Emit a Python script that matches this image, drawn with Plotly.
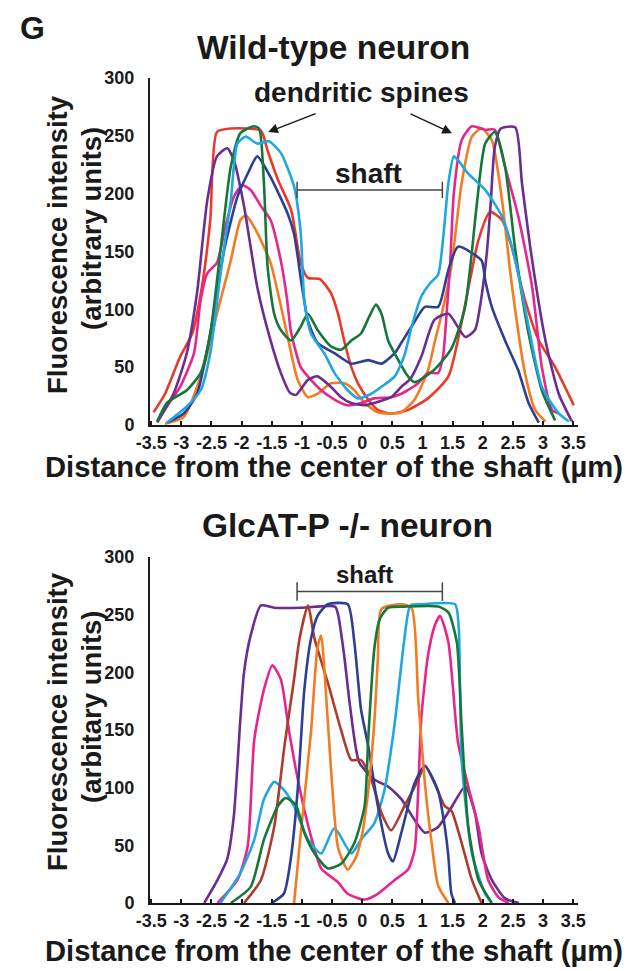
import plotly.graph_objects as go

# ---------------- data ----------------
X_TICKS = [-3.5, -3, -2.5, -2, -1.5, -1, -0.5, 0, 0.5, 1, 1.5, 2, 2.5, 3, 3.5]
X_TICK_TEXT = ["-3.5", "-3", "-2.5", "-2", "-1.5", "-1", "-0.5", "0", "0.5", "1", "1.5", "2", "2.5", "3", "3.5"]
Y_TICKS = [0, 50, 100, 150, 200, 250, 300]
Y_TICK_TEXT = ["0", "50", "100", "150", "200", "250", "300"]

SHAFT = [-1.08, 1.33]

# Wild-type neuron profiles
wt_red_x = [-3.46, -3.27, -3.02, -2.82, -2.66, -2.52, -2.41, -2.18, -1.68, -1.57, -1.4, -1.18, -1.02, -0.9, -0.7, -0.52, -0.4, -0.29, -0.18, -0.07, 0.1, 0.26, 0.48, 0.76, 1.09, 1.43, 1.7, 1.93, 2.12, 2.32, 2.48, 2.7, 2.93, 3.2, 3.51]
wt_red_y = [11, 27, 59, 79, 119, 177, 253, 256, 254, 237, 212, 186, 140, 127, 126, 114, 96, 71, 50, 36, 22, 13, 10, 13, 23, 42, 102, 160, 184, 177, 154, 108, 73, 50, 17]

wt_green_x = [-3.4, -3.24, -2.91, -2.68, -2.52, -2.35, -2.18, -2.02, -1.8, -1.71, -1.63, -1.57, -1.46, -1.35, -1.18, -1.02, -0.9, -0.74, -0.52, -0.35, -0.18, -0.02, 0.12, 0.23, 0.32, 0.43, 0.6, 0.76, 0.87, 1.2, 1.48, 1.7, 1.8, 1.9, 2.04, 2.2, 2.37, 2.54, 2.76, 2.98, 3.2]
wt_green_y = [3, 19, 30, 45, 79, 151, 223, 252, 258, 256, 209, 137, 96, 82, 73, 85, 96, 82, 68, 65, 73, 79, 94, 104, 96, 73, 56, 42, 37, 48, 66, 100, 140, 190, 243, 253, 223, 151, 79, 30, 4]

wt_cyan_x = [-3.24, -2.91, -2.68, -2.52, -2.35, -2.18, -2.07, -1.93, -1.74, -1.55, -1.35, -1.13, -1.02, -0.96, -0.85, -0.63, -0.46, -0.24, -0.07, 0.15, 0.32, 0.54, 0.7, 0.82, 0.98, 1.12, 1.26, 1.35, 1.43, 1.52, 1.6, 1.76, 2.04, 2.32, 2.54, 2.76, 2.98, 3.26, 3.43]
wt_cyan_y = [2, 16, 30, 62, 131, 194, 243, 249, 243, 245, 235, 206, 166, 108, 79, 62, 45, 30, 23, 27, 33, 42, 60, 85, 111, 122, 130, 165, 209, 232, 228, 217, 203, 180, 142, 85, 33, 10, 3]

wt_purple_x = [-3.4, -3.13, -2.91, -2.74, -2.57, -2.41, -2.24, -2.13, -1.96, -1.74, -1.52, -1.35, -1.2, -1.1, -0.9, -0.74, -0.52, -0.35, -0.18, 0.04, 0.26, 0.48, 0.65, 0.8, 0.98, 1.2, 1.43, 1.71, 1.87, 1.98, 2.07, 2.13, 2.2, 2.3, 2.54, 2.65, 2.82, 3.04, 3.26, 3.48]
wt_purple_y = [3, 27, 62, 114, 194, 232, 239, 229, 189, 119, 73, 45, 28, 26, 39, 42, 33, 24, 19, 17, 20, 24, 33, 40, 59, 91, 96, 76, 82, 111, 150, 190, 240, 256, 257, 209, 142, 73, 27, 3]

wt_navy_x = [-3.24, -2.96, -2.74, -2.52, -2.29, -2.07, -1.9, -1.74, -1.52, -1.24, -1.13, -1.0, -0.9, -0.74, -0.46, -0.18, 0.1, 0.32, 0.54, 0.65, 0.82, 1.04, 1.26, 1.43, 1.59, 1.98, 2.04, 2.15, 2.37, 2.59, 2.76, 2.93]
wt_navy_y = [2, 10, 27, 79, 151, 197, 217, 232, 214, 183, 165, 120, 90, 71, 62, 53, 56, 53, 62, 71, 85, 102, 102, 134, 154, 142, 125, 102, 73, 47, 19, 2]

wt_magenta_x = [-3.4, -3.24, -3.02, -2.79, -2.68, -2.57, -2.41, -2.27, -2.13, -1.99, -1.85, -1.68, -1.52, -1.35, -1.25, -1.18, -1.02, -0.85, -0.68, -0.46, -0.24, -0.02, 0.2, 0.48, 0.65, 0.93, 1.09, 1.26, 1.34, 1.4, 1.46, 1.52, 1.65, 1.82, 2.04, 2.2, 2.37, 2.59, 2.82, 2.98, 3.15, 3.26]
wt_magenta_y = [2, 16, 33, 62, 108, 131, 140, 171, 197, 207, 203, 189, 177, 142, 110, 80, 50, 39, 30, 22, 17, 19, 23, 24, 27, 36, 45, 45, 59, 96, 140, 200, 246, 258, 255, 255, 223, 180, 119, 50, 13, 10]

wt_orange_x = [-3.27, -2.96, -2.63, -2.41, -2.18, -2.02, -1.93, -1.74, -1.52, -1.35, -1.22, -1.07, -0.9, -0.74, -0.52, -0.29, -0.13, 0.04, 0.26, 0.48, 0.65, 0.87, 1.09, 1.2, 1.32, 1.48, 1.65, 1.82, 1.98, 2.15, 2.32, 2.48, 2.7, 2.87, 3.04]
wt_orange_y = [1, 7, 50, 96, 142, 177, 181, 166, 140, 103, 72, 39, 24, 27, 36, 36, 30, 19, 11, 10, 11, 22, 47, 71, 96, 137, 209, 249, 256, 246, 194, 122, 45, 13, 3]

# GlcAT-P -/- neuron profiles
ko_purple_x = [-2.62, -2.4, -2.24, -2.13, -2.02, -1.96, -1.85, -1.68, -1.46, -1.0, -0.45, -0.4, -0.3, -0.2, -0.05, 0.2, 0.43, 0.65, 0.87, 1.04, 1.26, 1.48, 1.71, 1.87, 1.98, 2.15, 2.37, 2.6]
ko_purple_y = [0, 20, 38, 75, 160, 200, 232, 258, 256, 256, 257, 250, 215, 170, 122, 107, 101, 90, 72, 61, 66, 83, 101, 78, 43, 20, 4, 0]

ko_magenta_x = [-2.4, -2.07, -1.9, -1.79, -1.63, -1.49, -1.35, -1.21, -1.04, -0.85, -0.68, -0.4, -0.24, 0.04, 0.26, 0.54, 0.76, 0.87, 0.93, 0.98, 1.09, 1.2, 1.29, 1.43, 1.59, 1.76, 1.93, 2.09, 2.26, 2.43]
ko_magenta_y = [0, 20, 49, 142, 185, 206, 194, 148, 100, 58, 30, 18, 8, 3, 8, 20, 29, 46, 98, 160, 214, 240, 249, 226, 139, 101, 66, 20, 5, 0]

ko_cyan_x = [-2.35, -2.02, -1.79, -1.63, -1.46, -1.3, -1.13, -0.9, -0.68, -0.46, -0.18, -0.02, 0.2, 0.37, 0.54, 0.7, 0.8, 0.98, 1.54, 1.6, 1.65, 1.82, 2.04, 2.15]
ko_cyan_y = [0, 26, 55, 90, 105, 98, 84, 55, 43, 65, 43, 55, 69, 98, 156, 229, 258, 259, 259, 240, 124, 43, 8, 0]

ko_green_x = [-2.18, -1.85, -1.63, -1.4, -1.27, -1.1, -0.96, -0.79, -0.57, -0.35, -0.13, 0.04, 0.1, 0.2, 0.29, 0.43, 0.7, 1.26, 1.43, 1.57, 1.65, 1.76, 1.93, 2.15]
ko_green_y = [0, 14, 55, 84, 91, 85, 61, 43, 30, 34, 52, 84, 142, 220, 246, 256, 257, 257, 252, 226, 153, 66, 20, 0]

ko_brown_x = [-1.96, -1.68, -1.46, -1.29, -1.13, -1.04, -0.9, -0.79, -0.57, -0.35, -0.18, -0.02, 0.15, 0.32, 0.48, 0.7, 0.93, 1.04, 1.2, 1.37, 1.48, 1.65, 1.82, 1.98]
ko_brown_y = [0, 20, 66, 136, 194, 229, 258, 229, 191, 150, 124, 124, 107, 78, 63, 84, 107, 119, 104, 84, 80, 52, 20, 0]

ko_navy_x = [-1.5, -1.3, -1.18, -1.07, -0.96, -0.85, -0.74, -0.57, -0.24, -0.13, -0.02, 0.1, 0.26, 0.43, 0.51, 0.65, 0.87, 1.04, 1.26, 1.37, 1.43, 1.48, 1.54]
ko_navy_y = [0, 8, 40, 98, 185, 229, 249, 259, 259, 226, 168, 136, 84, 43, 36, 61, 104, 119, 97, 66, 40, 8, 0]

ko_orange_x = [-1.13, -1.02, -0.85, -0.74, -0.68, -0.63, -0.52, -0.4, -0.24, -0.1, 0.0, 0.1, 0.2, 0.26, 0.32, 0.65, 0.82, 0.93, 1.04, 1.15, 1.26, 1.43]
ko_orange_y = [0, 60, 148, 222, 232, 205, 118, 48, 29, 40, 60, 97, 156, 211, 255, 259, 256, 176, 104, 53, 15, 0]

# ---------------- styling ----------------
RED = "#e83a2c"
GREEN = "#17773b"
CYAN = "#1fa8e0"
PURPLE = "#6a2d90"
NAVY = "#2e3f92"
MAGENTA = "#e6268c"
ORANGE = "#f47b22"
BROWN = "#b03a2b"
INK = "#1a1a1a"
FONT = "Liberation Sans, Arial, sans-serif"

# the page body adds an 8px offset; the figure fills the rest of the 635x971 window
OFF = 8
W, H = 627, 963

fig = go.Figure()

top_series = [
    (wt_red_x, wt_red_y, RED),
    (wt_orange_x, wt_orange_y, ORANGE),
    (wt_magenta_x, wt_magenta_y, MAGENTA),
    (wt_purple_x, wt_purple_y, PURPLE),
    (wt_navy_x, wt_navy_y, NAVY),
    (wt_green_x, wt_green_y, GREEN),
    (wt_cyan_x, wt_cyan_y, CYAN),
]
bot_series = [
    (ko_purple_x, ko_purple_y, PURPLE),
    (ko_magenta_x, ko_magenta_y, MAGENTA),
    (ko_cyan_x, ko_cyan_y, CYAN),
    (ko_brown_x, ko_brown_y, BROWN),
    (ko_navy_x, ko_navy_y, NAVY),
    (ko_orange_x, ko_orange_y, ORANGE),
    (ko_green_x, ko_green_y, GREEN),
]

for xs, ys, c in top_series:
    fig.add_trace(go.Scatter(x=xs, y=ys, mode="lines", xaxis="x", yaxis="y",
                             line=dict(color=c, width=2.6, shape="spline", smoothing=0.6),
                             showlegend=False, hoverinfo="skip"))
for xs, ys, c in bot_series:
    fig.add_trace(go.Scatter(x=xs, y=ys, mode="lines", xaxis="x2", yaxis="y2",
                             line=dict(color=c, width=2.6, shape="spline", smoothing=0.6),
                             showlegend=False, hoverinfo="skip"))


def fx(px):
    return (px - OFF) / W


def fy(py):
    return 1 - (py - OFF) / H


XDOM = [fx(150), fx(578)]
XRANGE = [-3.52, 3.58]

xaxis_common = dict(
    range=XRANGE, domain=XDOM, showline=True, linecolor=INK, linewidth=2,
    ticks="inside", ticklen=4, tickwidth=1.5, tickcolor=INK,
    tickvals=X_TICKS, ticktext=X_TICK_TEXT, showgrid=False, zeroline=False,
    tickfont=dict(family=FONT, size=18, color=INK, weight="bold"),
    fixedrange=True, automargin=False,
)
yaxis_common = dict(
    range=[0, 300], showline=True, linecolor=INK, linewidth=2, ticks="",
    tickvals=Y_TICKS, ticktext=Y_TICK_TEXT, showgrid=False, zeroline=False,
    tickfont=dict(family=FONT, size=18, color=INK, weight="bold"),
    ticklabelstandoff=10, fixedrange=True, automargin=False,
)

fig.update_layout(
    width=W, height=H,
    margin=dict(l=0, r=0, t=0, b=0, pad=0, autoexpand=False),
    paper_bgcolor="#ffffff", plot_bgcolor="#ffffff",
    showlegend=False,
    xaxis=dict(**xaxis_common, anchor="y"),
    yaxis=dict(**yaxis_common, anchor="x", domain=[fy(425), fy(77.6)]),
    xaxis2=dict(**xaxis_common, anchor="y2"),
    yaxis2=dict(**yaxis_common, anchor="x2", domain=[fy(903), fy(557)]),
)

ann = []


def text_at(px, py, txt, size, angle=0):
    ann.append(dict(x=fx(px), y=fy(py), xref="paper", yref="paper", text=txt, showarrow=False,
                    xanchor="center", yanchor="middle", textangle=angle,
                    font=dict(family=FONT, size=size, color=INK, weight="bold")))


text_at(32, 28, "G", 32)
text_at(333, 47, "Wild-type neuron", 33.5)
text_at(347, 525, "GlcAT-P -/- neuron", 33.5)

# axis titles
text_at(57, 245, "Fluorescence intensity", 27.5, -90)
text_at(91, 228, "(arbitrary units)", 27.5, -90)
text_at(334, 467, "Distance from the center of the shaft (µm)", 29.2)

text_at(57, 722, "Fluorescence intensity", 27.5, -90)
text_at(91, 706, "(arbitary units)", 27.5, -90)
text_at(334, 951, "Distance from the center of the shaft (µm)", 29.2)

# panel annotations
text_at(361, 93, "dendritic spines", 28)
ann.append(dict(x=0.1, y=217, xref="x", yref="y", text="shaft", showarrow=False,
                xanchor="center", yanchor="middle",
                font=dict(family=FONT, size=28, color=INK, weight="bold")))
ann.append(dict(x=0.03, y=285, xref="x2", yref="y2", text="shaft", showarrow=False,
                xanchor="center", yanchor="middle",
                font=dict(family=FONT, size=24, color=INK, weight="bold")))

# arrows to spines
for hx, hy, dx, dy in [(-1.56, 253, 49, -19), (1.49, 252, -43, -20)]:
    ann.append(dict(x=hx, y=hy, xref="x", yref="y", ax=dx, ay=dy, axref="pixel", ayref="pixel",
                    text="", showarrow=True, arrowhead=2, arrowsize=1.3, arrowwidth=1.5,
                    arrowcolor=INK, standoff=0))

fig.update_layout(annotations=ann)

# shaft brackets
shapes = []
for xr, yr, yc, half in [("x", "y", 203, 7), ("x2", "y2", 270, 8)]:
    shapes.append(dict(type="line", xref=xr, yref=yr, x0=SHAFT[0], x1=SHAFT[1], y0=yc, y1=yc,
                       line=dict(color="#444444", width=1.5)))
    for sx in SHAFT:
        shapes.append(dict(type="line", xref=xr, yref=yr, x0=sx, x1=sx, y0=yc - half, y1=yc + half,
                           line=dict(color="#444444", width=1.5)))
fig.update_layout(shapes=shapes)

fig.write_html("out.html")
